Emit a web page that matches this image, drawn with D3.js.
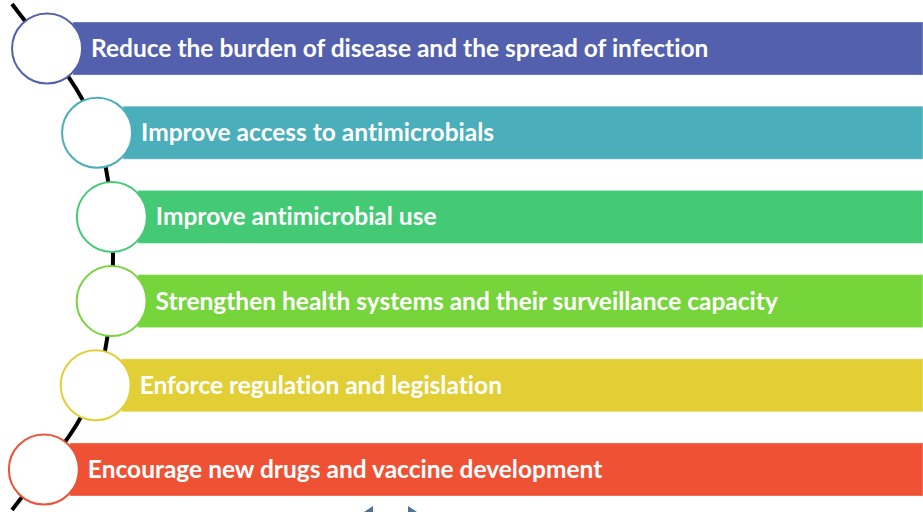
<!DOCTYPE html>
<html lang="en">
<head>
<meta charset="UTF-8">
<title>AMR strategic goals</title>
<script src="https://cdnjs.cloudflare.com/ajax/libs/d3/7.8.5/d3.min.js"></script>
<style>
  body { margin: 0; background: #fff; }
  svg { display: block; }
  .goal-label {
    font-family: Lato, "Open Sans", sans-serif;
    font-weight: bold;
    font-variant-ligatures: none;
    fill: #fff;
  }
</style>
</head>
<body>
<div id="chart"></div>
<script>
// Goals, top to bottom
const goals = [
  "Reduce the burden of disease and the spread of infection",
  "Improve access to antimicrobials",
  "Improve antimicrobial use",
  "Strengthen health systems and their surveillance capacity",
  "Enforce regulation and legislation",
  "Encourage new drugs and vaccine development"
];
const goalColors = ["#5360ae", "#4aafba", "#44c975", "#76d53a", "#e2cf36", "#ef5134"];

const width = 923, height = 512;
const radius = 35;

const svg = d3.select("#chart").append("svg")
  .attr("width", width)
  .attr("height", height);

const y = d3.scaleBand()
  .domain(goals)
  .range([22, 496])
  .paddingInner(0.37)
  .paddingOuter(0);

const color = d3.scaleOrdinal().domain(goals).range(goalColors);

// the curved spine that the circles sit on
const spine = svg.append("path")
  .attr("d", "M12,4 C72,84 113,107 113,257 C113,407 72,430 12,510")
  .attr("fill", "none")
  .attr("stroke", "#000")
  .attr("stroke-width", 4);

// find x on the spine for a given y (binary search along the path)
const node = spine.node();
const total = node.getTotalLength();
function spineX(yy) {
  const half = yy < 257;
  let lo = half ? 0 : total / 2, hi = half ? total / 2 : total;
  for (let i = 0; i < 40; i++) {
    const mid = (lo + hi) / 2;
    const p = node.getPointAtLength(mid);
    if (p.y < yy) lo = mid; else hi = mid;
  }
  return node.getPointAtLength((lo + hi) / 2).x;
}

const rows = goals.map(g => {
  const cy = y(g) + y.bandwidth() / 2;
  return { goal: g, cy: cy, cx: spineX(cy) };
});

const row = svg.selectAll("g.goal")
  .data(rows)
  .join("g")
  .attr("class", "goal");

row.append("rect")
  .attr("x", d => d.cx + 26)
  .attr("y", d => y(d.goal))
  .attr("width", d => width - d.cx - 26)
  .attr("height", y.bandwidth())
  .attr("fill", d => color(d.goal))
  .attr("stroke", "#fff")
  .attr("stroke-opacity", 0.35)
  .attr("stroke-width", 1);

row.append("circle")
  .attr("cx", d => d.cx)
  .attr("cy", d => d.cy)
  .attr("r", radius)
  .attr("fill", "#fff")
  .attr("stroke", d => color(d.goal))
  .attr("stroke-width", 2);

row.append("text")
  .attr("class", "goal-label")
  .attr("x", d => d.cx + 44)
  .attr("y", d => d.cy)
  .attr("dy", "0.35em")
  .style("font-size", "24.5px")
  .text(d => d.goal);

// bits of navigation arrows cut off at the bottom edge
svg.append("path")
  .attr("d", "M361,514 L373,506 L373,514 Z")
  .attr("fill", "#4f7394");
svg.append("path")
  .attr("d", "M408,506 L420,514 L408,514 Z")
  .attr("fill", "#4f7394");
</script>
</body>
</html>
